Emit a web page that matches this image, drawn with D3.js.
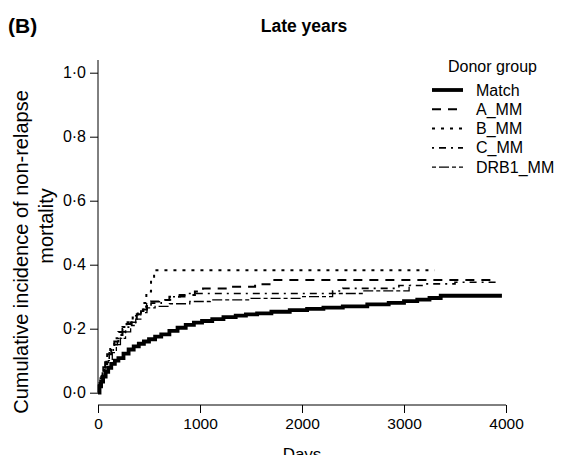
<!DOCTYPE html>
<html><head><meta charset="utf-8">
<script src="https://cdn.jsdelivr.net/npm/d3@7"></script>
<style>
html,body{margin:0;padding:0;background:#fff;}
svg{display:block;}
text{font-family:"Liberation Sans",Arial,sans-serif;fill:#000;}
</style></head>
<body><svg id="chart" width="581" height="455"></svg>
<script>
// ---- data ----
const groups = ["Match","A_MM","B_MM","C_MM","DRB1_MM"];
const xTicks = [0,1000,2000,3000,4000];
const yTicks = [0,0.2,0.4,0.6,0.8,1.0];

const matchDays = [0,15,30,50,75,100,130,165,200,250,300,350,400,450,500,560,620,700,780,860,940,1020,1120,1230,1350,1450,1560,1700,1880,2050,2210,2400,2640,2850,3000,3130,3250,3360,3960];
const matchCif  = [0,0.02,0.035,0.05,0.065,0.078,0.09,0.1,0.108,0.122,0.135,0.145,0.153,0.16,0.167,0.175,0.182,0.193,0.203,0.212,0.219,0.224,0.23,0.236,0.241,0.245,0.248,0.253,0.258,0.262,0.266,0.27,0.276,0.281,0.286,0.291,0.296,0.303,0.303];

const aDays = [0,10,25,45,70,100,130,160,200,240,280,330,380,430,480,520,600,700,800,950,1030,1300,1540,1700,3900];
const aCif  = [0,0.02,0.045,0.07,0.095,0.12,0.14,0.16,0.18,0.2,0.215,0.23,0.245,0.26,0.275,0.285,0.29,0.3,0.305,0.316,0.326,0.331,0.339,0.352,0.352];

const bDays = [0,15,35,60,90,120,160,200,240,290,340,390,440,474,520,550,3300];
const bCif  = [0,0.03,0.06,0.09,0.12,0.145,0.17,0.19,0.205,0.22,0.235,0.255,0.28,0.316,0.35,0.383,0.383];

const cDays = [0,10,30,50,80,110,150,190,230,270,320,370,420,470,520,620,720,850,2300,2400,2950,3200,3500,3900];
const cCif  = [0,0.025,0.05,0.08,0.105,0.13,0.15,0.17,0.19,0.205,0.22,0.24,0.255,0.27,0.28,0.29,0.3,0.31,0.318,0.326,0.335,0.34,0.345,0.345];

const drbDays = [0,15,40,70,100,140,180,220,270,320,370,420,480,560,700,900,1100,1500,2000,2300,2600,3050,3070];
const drbCif  = [0,0.02,0.05,0.08,0.1,0.125,0.15,0.17,0.19,0.21,0.23,0.25,0.265,0.27,0.278,0.285,0.29,0.295,0.3,0.31,0.318,0.336,0.336];

// ---- styles ----
const styles = {
  "Match":   {w:3.8, dash:null},
  "A_MM":    {w:2.0, dash:"9,7"},
  "B_MM":    {w:2.0, dash:"3,6"},
  "C_MM":    {w:1.6, dash:"2,5,7,5"},
  "DRB1_MM": {w:1.3, dash:"4,3,10,3"}
};
const seriesData = {
  "Match": d3.zip(matchDays, matchCif),
  "A_MM": d3.zip(aDays, aCif),
  "B_MM": d3.zip(bDays, bCif),
  "C_MM": d3.zip(cDays, cCif),
  "DRB1_MM": d3.zip(drbDays, drbCif)
};

const svg = d3.select("#chart");
const x = d3.scaleLinear().domain([0,4000]).range([98,506]);
const y = d3.scaleLinear().domain([0,1]).range([392.7,72.7]);

// title
svg.append("text").attr("x",8).attr("y",33).attr("font-size",21).attr("font-weight","bold").text("(B)");
svg.append("text").attr("x",304).attr("y",32).attr("text-anchor","middle").attr("font-size",17.5).attr("font-weight","bold").text("Late years");

// x axis
const gx = svg.append("g").attr("transform","translate(0,405)")
  .call(d3.axisBottom(x).tickValues(xTicks).tickSize(8).tickPadding(5).tickFormat(d3.format("d")));
gx.select(".domain").remove();
gx.append("line").attr("x1",x(0)).attr("x2",x(4000)).attr("stroke","#000").attr("stroke-width",1);
gx.selectAll("text").attr("font-size",15.5).attr("font-family","Liberation Sans, Arial, sans-serif");
gx.selectAll(".tick line").attr("stroke","#000");

// y axis
const gy = svg.append("g").attr("transform","translate(98,0)")
  .call(d3.axisLeft(y).tickValues(yTicks).tickSize(8).tickPadding(4).tickFormat(d => d.toFixed(1).replace(".","\u00B7")));
gy.select(".domain").remove();
gy.append("line").attr("y1",60).attr("y2",y(0)).attr("stroke","#000").attr("stroke-width",1);
gy.selectAll("text").attr("font-size",16).attr("font-family","Liberation Sans, Arial, sans-serif");

// axis titles
svg.append("text").attr("transform","translate(28,252) rotate(-90)").attr("text-anchor","middle").attr("font-size",20)
  .text("Cumulative incidence of non-relapse");
svg.append("text").attr("transform","translate(53,226) rotate(-90)").attr("text-anchor","middle").attr("font-size",20)
  .text("mortality");
svg.append("text").attr("x",302).attr("y",460).attr("text-anchor","middle").attr("font-size",17).text("Days");

// lines
const line = d3.line().x(d=>x(d[0])).y(d=>y(d[1])).curve(d3.curveStepAfter);
["DRB1_MM","C_MM","B_MM","A_MM","Match"].forEach(g=>{
  const s = styles[g];
  svg.append("path").datum(seriesData[g]).attr("d",line)
    .attr("fill","none").attr("stroke","#000").attr("stroke-width",s.w)
    .attr("stroke-dasharray",s.dash);
});

// legend
const lg = svg.append("g");
lg.append("text").attr("x",448).attr("y",72).attr("font-size",16).text("Donor group");
groups.forEach((g,i)=>{
  const cy = 90 + i*19.3;
  const s = styles[g];
  lg.append("line").attr("x1",432).attr("x2",463).attr("y1",cy).attr("y2",cy)
    .attr("stroke","#000").attr("stroke-width",s.w).attr("stroke-dasharray",s.dash);
  lg.append("text").attr("x",476).attr("y",cy+5.5).attr("font-size",16).text(g);
});
</script></body></html>
